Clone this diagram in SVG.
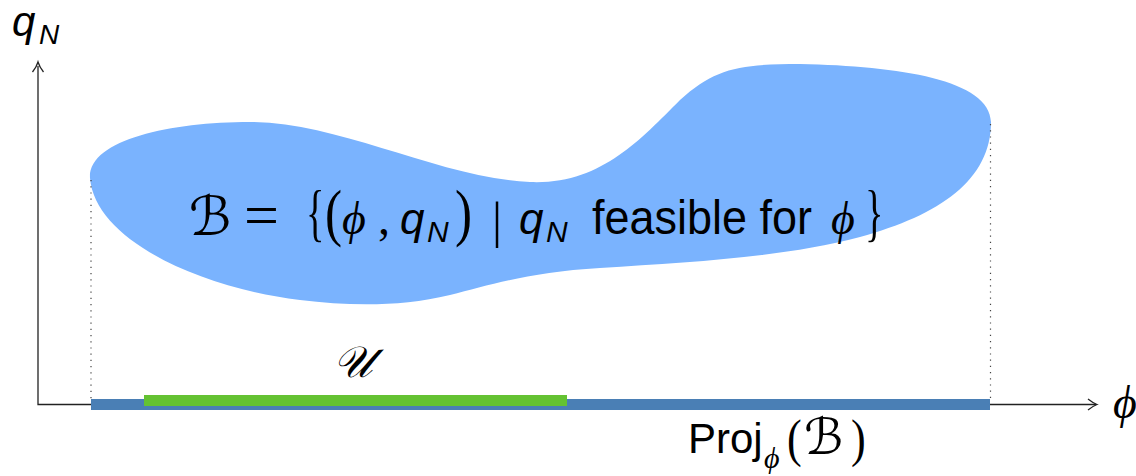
<svg xmlns="http://www.w3.org/2000/svg" width="1136" height="476" viewBox="0 0 1136 476">
<style>
.sans{font-family:"Liberation Sans","DejaVu Sans",sans-serif;fill:#000}
.it{font-family:"Liberation Sans","DejaVu Sans",sans-serif;font-style:italic;fill:#000}
.ser{font-family:"Liberation Serif","DejaVu Serif",serif;fill:#000}
.phi{font-family:"Liberation Serif","DejaVu Serif",serif;font-style:italic;fill:#000}
.scr{font-family:"DejaVu Serif","DejaVu Sans","Noto Sans",serif;font-style:italic;fill:#000}
.axis{stroke:#222;stroke-width:1.3;fill:none}
.dot{stroke:#444;stroke-width:1.2;stroke-dasharray:1.2 5;fill:none}
</style>
<g id="blob">
<path d="M 90,178 C 88,140 170,122 250,122 C 340,122 440,178 530,182 C 600,185 640,140 680,100 C 715,68 740,64 800,64 C 900,66 990,80 991,122 C 991,180 940,215 860,237 C 780,258 690,262 600,268 C 530,272 490,285 450,295 C 400,307 350,306 300,300 C 200,288 95,240 90,178 Z" fill="#7ab3fe"/>
</g>
<g id="connectors">
<line class="dot" x1="91" y1="180" x2="91" y2="399"/>
<line class="dot" x1="990.5" y1="124" x2="990.5" y2="399"/>
<polyline class="axis" points="38,66 38,404.5 1096,404.5"/>
<path class="axis" d="M1088,399 Q1093,403 1097,404.5 Q1093,406 1088,410"/>
<path class="axis" d="M32.5,72 Q36.5,67 38,62 Q39.5,67 43.5,72"/>
</g>
<g id="proj-bar">
<rect x="91" y="399" width="899" height="11" fill="#4a7fb5"/>
</g>
<g id="u-bar">
<rect x="144" y="395" width="423" height="11" fill="#64c232"/>
</g>
<g id="label-B">
<text class="scr" x="189" y="235" font-size="54">ℬ</text>
<text class="ser" x="244" y="236" font-size="62">=</text>
<text class="ser" transform="translate(306,234) scale(0.6,1)" font-size="64">{</text>
<text class="ser" transform="translate(325,234) scale(0.8,1)" font-size="64">(</text>
<text class="phi" x="342" y="234" font-size="46">ϕ</text>
<text class="ser" x="378" y="234" font-size="48">,</text>
<text class="it" x="400" y="234" font-size="44">q</text>
<text class="it" x="427" y="242" font-size="30">N</text>
<text class="ser" transform="translate(455,234) scale(0.8,1)" font-size="64">)</text>
<text class="ser" x="492" y="237" font-size="50">|</text>
<text class="it" x="519" y="234" font-size="44">q</text>
<text class="it" x="546" y="242" font-size="30">N</text>
<text class="sans" x="592" y="234" font-size="48" textLength="220" lengthAdjust="spacingAndGlyphs">feasible for</text>
<text class="phi" x="831" y="234" font-size="46">ϕ</text>
<text class="ser" transform="translate(865,234) scale(0.6,1)" font-size="64">}</text>
</g>
<g id="label-U">
<text class="scr" x="333" y="377" font-size="44">𝒰</text>
</g>
<g id="label-proj">
<text class="sans" x="688" y="453" font-size="42">Proj</text>
<text class="phi" x="764" y="468" font-size="30">ϕ</text>
<text class="ser" transform="translate(787,456) scale(0.85,1)" font-size="52">(</text>
<text class="scr" x="804" y="454" font-size="50">ℬ</text>
<text class="ser" transform="translate(851,456) scale(0.85,1)" font-size="52">)</text>
</g>
<g id="axis-labels">
<text class="it" x="12" y="36" font-size="42">q</text>
<text class="it" x="39" y="44" font-size="28">N</text>
<text class="phi" x="1113" y="418" font-size="46">ϕ</text>
</g>
</svg>
